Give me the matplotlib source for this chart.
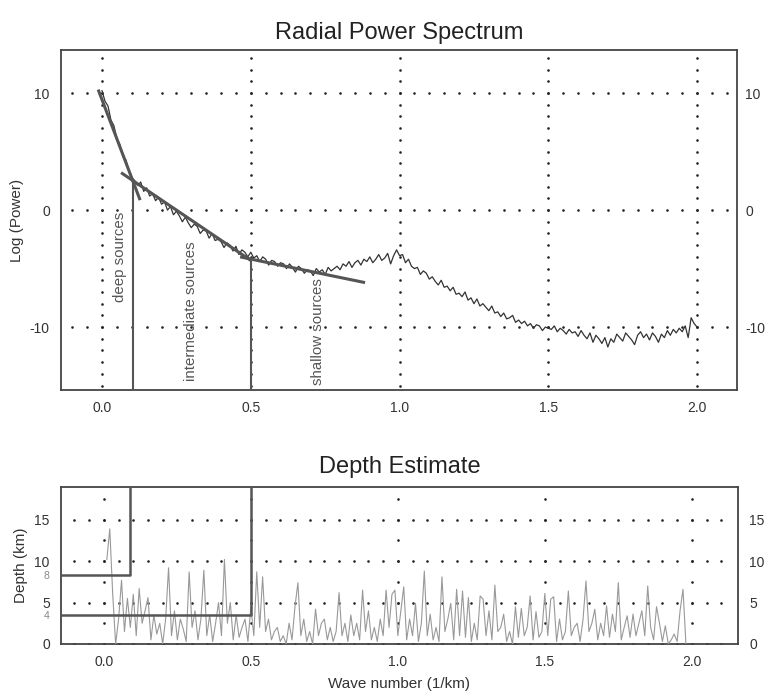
import numpy as np
import matplotlib
matplotlib.use("Agg")
import matplotlib.pyplot as plt

plt.rcParams['font.family'] = ['Liberation Sans', 'DejaVu Sans']

# radial power spectrum, sampled every 0.01 1/km from 0.0 to 2.0
power = [
    10.2, 9.3, 8.9, 7.7, 7.2, 6.1, 5.6, 4.6, 4.3, 3.4,
    2.8, 2.5, 2.1, 2.4, 1.6, 1.9, 1.2, 1.4, 0.8, 1.1,
    0.5, 0.7, 0.0, 0.3, -0.4, -0.1, -0.5, -1.0, -0.6, -1.1,
    -1.5, -1.2, -1.4, -2.0, -1.7, -1.8, -2.4, -2.0, -2.6, -2.5,
    -2.7, -3.2, -2.8, -3.0, -3.5, -3.1, -3.8, -3.4, -3.6, -4.0,
    -3.6, -4.1, -3.9, -4.4, -4.0, -4.2, -4.7, -4.3, -4.4, -4.8,
    -4.5, -4.6, -5.0, -4.6, -4.9, -5.3, -4.8, -5.0, -5.4, -5.1,
    -5.2, -5.6, -5.0, -5.3, -5.1, -5.5, -4.9, -5.2, -5.0, -4.8,
    -5.1, -4.6, -4.8, -4.4, -4.9, -4.5, -4.3, -4.7, -4.2, -4.4,
    -4.0, -4.5, -4.2, -3.8, -4.3, -4.1, -3.7, -4.6, -3.9, -3.4,
    -3.9, -3.8, -4.5, -4.2, -4.8, -5.0, -4.9, -5.5, -5.2, -5.4,
    -5.9, -5.7, -6.1, -6.4, -6.0, -6.6, -6.5, -6.9, -6.6, -7.2,
    -7.1, -7.4, -7.0, -7.7, -7.5, -8.0, -7.6, -8.2, -8.0, -8.3,
    -8.6, -8.2, -8.8, -8.7, -9.1, -8.8, -9.3, -9.2, -9.0, -9.6,
    -9.4, -9.7, -9.5, -9.9, -9.7, -10.1, -9.8, -9.9, -10.3, -10.0,
    -10.1, -10.2, -9.9, -10.4, -10.1, -10.3, -10.6, -10.2, -10.5, -10.4,
    -10.8, -10.3, -10.7, -11.0, -10.5, -11.3, -10.7, -11.0, -11.4, -10.9,
    -11.7, -11.0, -11.3, -10.6, -10.9, -11.2, -10.5, -10.8, -11.1, -11.5,
    -10.7, -10.4, -10.9, -10.6, -11.1, -10.5, -10.8, -11.3, -10.6, -10.9,
    -10.3, -10.7, -10.2, -10.5, -10.1, -10.4, -9.9, -10.9, -9.2, -9.7,
    -10.0,
]
power_k = np.round(np.arange(len(power)) * 0.01, 2)

# straight-line fits (start/end points)
deep_fit_k, deep_fit_p = [-0.013, 0.128], [10.3, 0.85]
inter_fit_k, inter_fit_p = [0.064, 0.5], [3.2, -4.3]
shallow_fit_k, shallow_fit_p = [0.464, 0.884], [-4.0, -6.2]

# band limits
deep_cut, deep_cut_p = 0.104, 2.4
inter_cut, inter_cut_p = 0.5, -4.2

# depth estimate, every 0.01 1/km from 0.01 to 1.98
depth = [
    10.2, 13.9, 6.0, 0.0, 3.0, 7.7, 1.5, 5.5, 2.0, 6.0,
    1.0, 6.7, 2.5, 4.0, 5.6, 0.5, 3.5, 1.2, 2.5, 0.0,
    3.0, 9.2, 1.0, 4.0, 0.5, 3.0, 1.8, 0.3, 8.7, 2.0,
    4.0, 0.5, 3.0, 8.9, 1.0, 3.5, 0.3, 2.5, 5.0, 1.0,
    10.2, 2.5, 5.0, 0.5, 3.5, 0.8, 2.0, 3.0, 0.3, 4.5,
    1.0, 8.7, 2.0, 8.1, 1.5, 3.0, 0.5, 1.5, 2.0, 0.3,
    1.0, 0.0, 2.5, 0.5, 4.5, 7.4, 1.0, 3.0, 0.3, 1.5,
    0.0, 4.2, 1.0, 2.5, 3.0, 0.5, 2.0, 0.3, 1.5, 6.2,
    1.0, 2.5, 0.3, 3.5, 1.0, 2.5, 0.5, 6.5, 1.5, 4.0,
    0.5, 2.0, 0.3, 3.0, 1.0, 6.5, 2.0, 6.0, 6.5, 1.0,
    4.0, 6.9, 0.5, 3.0, 1.0, 4.9, 0.3, 2.5, 8.8, 1.0,
    3.6, 0.5, 2.0, 0.3, 8.1, 1.5, 3.0, 4.9, 0.5, 6.6,
    1.0, 6.4, 0.8, 5.6, 0.3, 2.5, 0.5, 5.8, 5.4, 1.0,
    4.0, 0.5, 7.1, 1.5, 2.0, 3.6, 0.3, 1.5, 0.0, 4.5,
    0.8, 4.3, 1.0, 2.0, 5.8, 0.5, 3.9, 0.8, 1.5, 6.1,
    1.0, 5.4, 5.7, 0.3, 3.0, 0.5, 1.5, 6.4, 1.0, 2.0,
    2.5, 0.3, 3.0, 7.6, 1.5, 2.5, 4.2, 0.5, 2.5, 1.0,
    4.6, 0.8, 3.6, 1.5, 7.4, 0.5, 2.0, 3.4, 0.8, 3.6,
    1.0, 2.5, 4.0, 1.0, 7.0, 2.0, 0.5, 4.5, 2.5, 0.3,
    2.2, 0.0, 0.5, 1.2, 0.3, 4.0, 6.6, 0.0,
]
depth_k = np.round(0.01 + np.arange(len(depth)) * 0.01, 2)

# depths of the two source ensembles
deep_depth, inter_depth = 8.3, 3.5
deep_cut_d, inter_cut_d = 0.09, 0.5

x_ticks = [0.0, 0.5, 1.0, 1.5, 2.0]
x_labels = ["0.0", "0.5", "1.0", "1.5", "2.0"]
p_ticks = [-10, 0, 10]
d_ticks = [0, 5, 10, 15]

DOT = '#222222'
FIT = '#555555'


def dotted_grid(ax, xlines, ylines, ylo, yhi, ystep):
    # dotted grid like the original figure
    xs = np.arange(-0.1, 2.11, 0.05)
    for y in ylines:
        ax.scatter(xs, np.full_like(xs, y), s=3.5, color=DOT, lw=0, zorder=1)
    ys = np.arange(ylo, yhi + 1e-6, ystep)
    for x in xlines:
        ax.scatter(np.full_like(ys, x), ys, s=3.5, color=DOT, lw=0, zorder=1)


def style(ax):
    for s in ax.spines.values():
        s.set_color('#444444')
        s.set_linewidth(1.3)
    ax.tick_params(length=0, labelsize=10, colors='#333333', pad=8)
    ax.tick_params(axis='y', which='both', right=False)


fig = plt.figure(figsize=(7.66, 6.92), dpi=100)

# --- top panel ---
ax1 = fig.add_axes([0.0796, 0.4364, 0.8825, 0.4913])
dotted_grid(ax1, x_ticks, p_ticks, -15, 13, 1)
ax1.plot(power_k, power, color='#333333', lw=0.9, zorder=3)
for k, p in [(deep_fit_k, deep_fit_p), (inter_fit_k, inter_fit_p),
             (shallow_fit_k, shallow_fit_p)]:
    ax1.plot(k, p, color=FIT, lw=2.2, solid_capstyle='butt', zorder=4)
ax1.plot([deep_cut, deep_cut], [-20, deep_cut_p], color=FIT, lw=1.5, zorder=4)
ax1.plot([inter_cut, inter_cut], [-20, inter_cut_p], color=FIT, lw=1.5, zorder=4)

lab_kw = dict(rotation=90, ha='center', va='center', fontsize=10.8, color='#555555')
ax1.text(0.06, -4.0, "deep sources", **lab_kw)
ax1.text(0.30, -8.6, "intermediate sources", **lab_kw)
ax1.text(0.726, -10.4, "shallow sources", **lab_kw)

ax1.set_xlim(-0.138, 2.134)
ax1.set_ylim(-15.38, 13.68)
ax1.set_xticks(x_ticks, x_labels)
ax1.set_yticks(p_ticks, [str(v) for v in p_ticks])
style(ax1)
sec1 = ax1.secondary_yaxis('right')
sec1.set_yticks(p_ticks, [str(v) for v in p_ticks])
sec1.tick_params(length=0, labelsize=10, colors='#333333', pad=6)
sec1.spines['right'].set_visible(False)
ax1.set_ylabel("Log (Power)", fontsize=11, color='#333333', labelpad=4)
ax1.set_title("Radial Power Spectrum", fontsize=17, color='#222222', pad=8)

# --- bottom panel ---
ax2 = fig.add_axes([0.0796, 0.0694, 0.8838, 0.2269])
dotted_grid(ax2, x_ticks, [0] + d_ticks[1:], 0, 17.5, 2.5)
ax2.plot(depth_k, depth, color='#999999', lw=0.8, zorder=3)
ax2.plot([-1, deep_cut_d, deep_cut_d], [deep_depth, deep_depth, 30],
         color=FIT, lw=1.8, zorder=4)
ax2.plot([-1, inter_cut_d, inter_cut_d], [inter_depth, inter_depth, 30],
         color=FIT, lw=1.8, zorder=4)

ax2.set_xlim(-0.146, 2.157)
ax2.set_ylim(0, 18.95)
ax2.set_xticks(x_ticks, x_labels)
ax2.set_yticks(d_ticks + [inter_depth, deep_depth],
               [str(v) for v in d_ticks] + ["4", "8"])
style(ax2)
for lab in ax2.get_yticklabels()[-2:]:
    lab.set_fontsize(7.5)
    lab.set_color('#888888')
sec2 = ax2.secondary_yaxis('right')
sec2.set_yticks(d_ticks, [str(v) for v in d_ticks])
sec2.tick_params(length=0, labelsize=10, colors='#333333', pad=8)
sec2.spines['right'].set_visible(False)
ax2.set_ylabel("Depth (km)", fontsize=11, color='#333333', labelpad=5)
ax2.set_xlabel("Wave number (1/km)", fontsize=11, color='#333333', labelpad=6)
ax2.set_title("Depth Estimate", fontsize=17, color='#222222', pad=10)

fig.savefig("out.png", dpi=100)
